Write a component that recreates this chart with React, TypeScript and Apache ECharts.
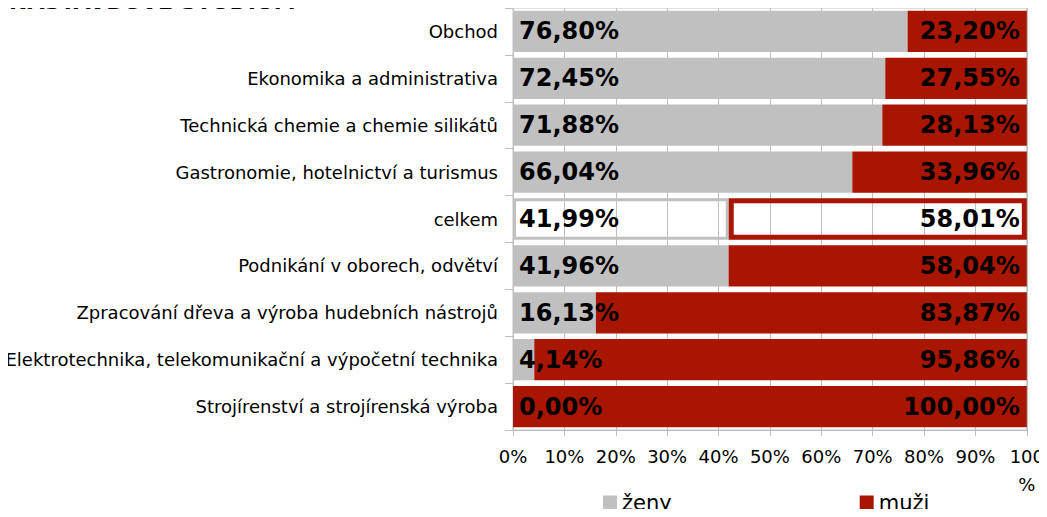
import React, { useEffect, useRef } from "react";
import * as echarts from "echarts";

const categories = [
  "Obchod",
  "Ekonomika a administrativa",
  "Technická chemie a chemie silikátů",
  "Gastronomie, hotelnictví a turismus",
  "celkem",
  "Podnikání v oborech, odvětví",
  "Zpracování dřeva a výroba hudebních nástrojů",
  "Elektrotechnika, telekomunikační a výpočetní technika",
  "Strojírenství a strojírenská výroba",
];
const zeny = [76.8, 72.45, 71.88, 66.04, 41.99, 41.96, 16.13, 4.14, 0.0];
const muzi = [23.2, 27.55, 28.13, 33.96, 58.01, 58.04, 83.87, 95.86, 100.0];
const seriesNames = ["ženy", "muži"];
const titleText = "NÁSTAVBOVÉ STUDIUM";
const highlightCategory = "celkem";

const GRAY = "#C0C0C0";
const RED = "#A81602";
const FONT = "DejaVu Sans";

const fmt = (v: number) => v.toFixed(2).replace(".", ",") + "%";

export default function App() {
  const ref = useRef<HTMLDivElement>(null);
  useEffect(() => {
    if (!ref.current) return;
    const chart = echarts.init(ref.current, null, { renderer: "svg" });
    const labelBase = {
      show: true,
      color: "#000",
      fontFamily: FONT,
      fontWeight: "bold",
      fontSize: 24,
      formatter: (p: any) => fmt(p.value),
    };
    const zData = zeny.map((v, i) =>
      categories[i] === highlightCategory
        ? { value: v, itemStyle: { color: "rgba(255,255,255,0)", borderColor: GRAY, borderWidth: 3 } }
        : v
    );
    const mData = muzi.map((v, i) =>
      categories[i] === highlightCategory
        ? { value: v, itemStyle: { color: "rgba(255,255,255,0)", borderColor: RED, borderWidth: 5 } }
        : v
    );
    chart.setOption({
      animation: false,
      backgroundColor: "#fff",
      textStyle: { fontFamily: FONT },
      graphic: [
        {
          type: "text",
          x: 9,
          y: 12,
          z: 100,
          style: {
            text: titleText,
            fontSize: 22,
            fontWeight: "bold",
            fontFamily: FONT,
            fill: "#000",
            verticalAlign: "bottom",
          },
        },
      ],
      grid: {
        left: 513,
        right: 20,
        top: 8,
        bottom: 87,
        show: true,
        borderColor: "#BFBFBF",
        borderWidth: 1,
        backgroundColor: "transparent",
      },
      legend: {
        data: seriesNames,
        left: 598,
        top: 487,
        itemWidth: 14,
        itemHeight: 14,
        itemGap: 188,
        icon: "rect",
        textStyle: { fontFamily: FONT, fontSize: 21, color: "#000" },
      },
      xAxis: {
        type: "value",
        min: 0,
        max: 100,
        interval: 10,
        axisLine: { show: true, lineStyle: { color: "#BFBFBF" } },
        axisTick: { show: true, length: 6, lineStyle: { color: "#BFBFBF" } },
        splitLine: { show: true, lineStyle: { color: "#BFBFBF", width: 1 } },
        axisLabel: {
          color: "#000",
          fontFamily: FONT,
          fontSize: 18,
          margin: 12,
          lineHeight: 28,
          formatter: (v: number) => (v === 100 ? "100\n%" : v + "%"),
        },
      },
      yAxis: {
        type: "category",
        data: categories,
        inverse: true,
        axisLine: { show: true, lineStyle: { color: "#BFBFBF" } },
        axisTick: { show: true, length: 8, lineStyle: { color: "#BFBFBF" } },
        axisLabel: { color: "#000", fontFamily: FONT, fontSize: 18, margin: 15 },
      },
      series: [
        {
          name: seriesNames[0],
          type: "bar",
          stack: "total",
          barCategoryGap: "12%",
          itemStyle: { color: GRAY },
          label: { ...labelBase, position: "insideLeft", distance: 6 },
          data: zData,
        },
        {
          name: seriesNames[1],
          type: "bar",
          stack: "total",
          barCategoryGap: "12%",
          itemStyle: { color: RED },
          label: { ...labelBase, position: "insideRight", distance: 7 },
          data: mData,
        },
      ],
    });
    return () => chart.dispose();
  }, []);
  return <div ref={ref} style={{ width: 1047, height: 517, margin: -8 }} />;
}
